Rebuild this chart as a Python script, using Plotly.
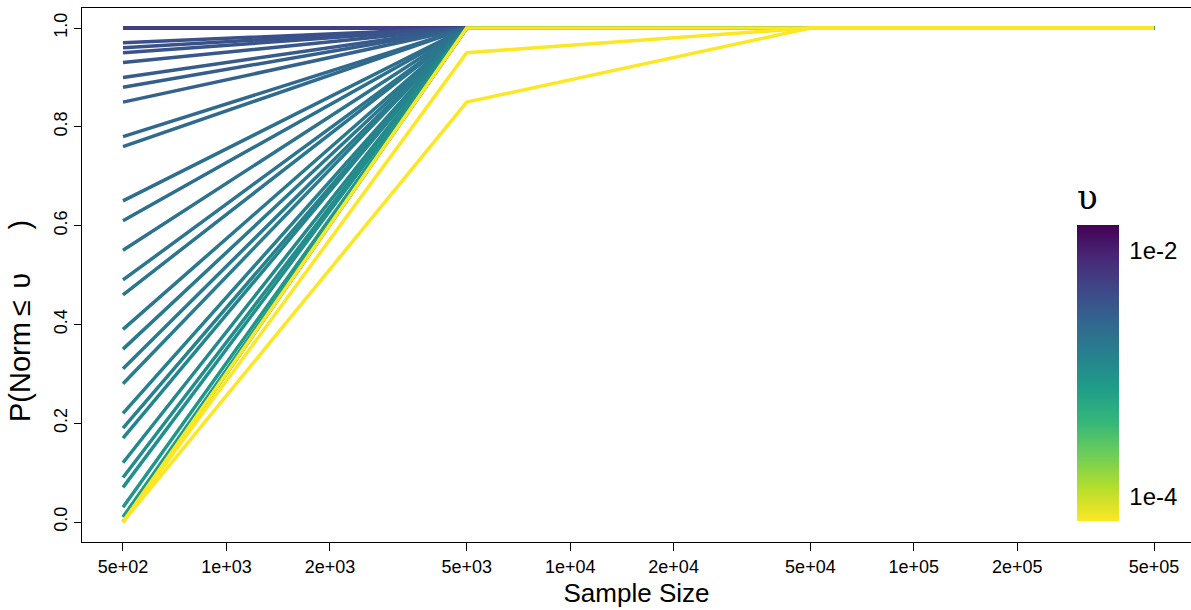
import numpy as np
import plotly.graph_objects as go
from plotly.colors import sample_colorscale

# ---- data ----
sample_sizes = [500, 5000, 50000, 500000]

# threshold upsilon for every curve (high -> low)
upsilon = [1.6e-2, 1.2e-2, 9.0e-3, 7.0e-3, 5.5e-3,
           4.2e-3, 4.0e-3, 3.8e-3, 3.6e-3, 3.3e-3, 3.1e-3, 2.9e-3,
           2.5e-3, 2.4e-3, 2.2e-3, 2.1e-3, 2.0e-3, 1.9e-3, 1.85e-3,
           1.75e-3, 1.7e-3, 1.6e-3, 1.55e-3, 1.45e-3, 1.35e-3, 1.3e-3,
           1.2e-3, 1.1e-3, 1.05e-3, 9.0e-4, 8.0e-4, 7.0e-4, 6.2e-4,
           6.5e-5, 6.45e-5, 6.4e-5]

p_500 = [1.0, 1.0, 1.0, 1.0, 1.0,
         0.97, 0.96, 0.95, 0.93, 0.90, 0.88, 0.85,
         0.78, 0.76, 0.65, 0.61, 0.55, 0.49, 0.46,
         0.39, 0.35, 0.31, 0.28, 0.22, 0.19, 0.17,
         0.12, 0.09, 0.07, 0.03, 0.01, 0.0, 0.0,
         0.0, 0.0, 0.0]
p_5000 = [1.0] * 33 + [1.0, 0.95, 0.85]
p_50000 = [1.0] * 36
p_500000 = [1.0] * 36

cb_min = -4.196   # log10 of colour-bar bottom
cb_max = -1.788   # log10 of colour-bar top
cb_tickvals = [-2, -4]
cb_ticktext = ["1e-2", "1e-4"]

x_tickvals = [500, 1000, 2000, 5000, 1e4, 2e4, 5e4, 1e5, 2e5, 5e5]
x_ticktext = ["5e+02", "1e+03", "2e+03", "5e+03", "1e+04", "2e+04",
              "5e+04", "1e+05", "2e+05", "5e+05"]
y_tickvals = [0.0, 0.2, 0.4, 0.6, 0.8, 1.0]

# ---- figure ----
fig = go.Figure()
for i, u in enumerate(upsilon):
    f = (cb_max - np.log10(u)) / (cb_max - cb_min)
    f = min(max(f, 0.0), 1.0)
    col = sample_colorscale("Viridis", [f])[0]
    fig.add_trace(go.Scatter(
        x=sample_sizes,
        y=[p_500[i], p_5000[i], p_50000[i], p_500000[i]],
        mode="lines",
        line=dict(color=col, width=3.5),
        showlegend=False, hoverinfo="skip"))

W, H = 1191, 610
L, R, T, B = 82, 0, 8, 68
pw, ph = W - L - R, H - T - B

title_px = 46  # room plotly reserves for the colour-bar title
fig.add_trace(go.Scatter(
    x=[None, None], y=[None, None], mode="markers",
    marker=dict(color=[cb_min, cb_max], cmin=cb_min, cmax=cb_max,
                colorscale="Viridis_r", showscale=True,
                colorbar=dict(
                    x=(1077 - L) / pw, xanchor="left",
                    y=(H - B - 521) / ph, yanchor="bottom",
                    len=295 + title_px, lenmode="pixels",
                    thickness=42, thicknessmode="pixels",
                    xpad=0, ypad=0, outlinewidth=0,
                    ticks="outside", ticklen=6, tickcolor="rgba(0,0,0,0)",
                    tickvals=cb_tickvals, ticktext=cb_ticktext,
                    tickfont=dict(size=24, color="black",
                                  family="Liberation Sans, Arial"),
                    title=dict(text="υ", side="top",
                               font=dict(size=34, color="black",
                                         family="DejaVu Serif, serif")))),
    showlegend=False, hoverinfo="skip"))

fig.update_layout(
    width=W, height=H,
    margin=dict(l=L, r=R, t=T, b=B, pad=0),
    plot_bgcolor="white", paper_bgcolor="white",
    font=dict(family="Liberation Sans, Arial", color="black"),
    xaxis=dict(type="log",
               range=[2.5797, 2.699 + (W - 123) / 343.7],
               tickvals=x_tickvals, ticktext=x_ticktext,
               ticks="outside", ticklen=8, tickwidth=1, tickcolor="black",
               showline=True, linecolor="black", linewidth=1, mirror=True,
               showgrid=False, zeroline=False,
               tickfont=dict(size=18),
               title=dict(text="Sample Size", font=dict(size=26), standoff=8)),
    yaxis=dict(range=[-20 / 494, 1 + 20 / 494],
               tickvals=y_tickvals, tickformat=".1f",
               ticks="outside", ticklen=7, tickwidth=1, tickcolor="black",
               showline=True, linecolor="black", linewidth=1,
               showgrid=False, zeroline=False, tickangle=-90,
               tickfont=dict(size=18)),
    annotations=[dict(
        text="P(Norm\u2009\u2264\u2009\u2009υ\u2003\u2002)", textangle=-90,
        xref="paper", yref="paper",
        x=(20 - L) / pw, y=(H - B - 321) / ph,
        xanchor="center", yanchor="middle", showarrow=False,
        font=dict(size=29, color="black"))],
)

fig.write_html("out.html")
